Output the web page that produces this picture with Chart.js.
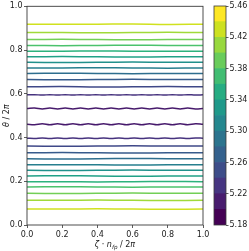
<!DOCTYPE html>
<html><head><meta charset="utf-8">
<script src="https://cdn.jsdelivr.net/npm/chart.js@4/dist/chart.umd.min.js"></script>
<style>
html,body{margin:0;padding:0;background:#fff;}
#wrap{position:relative;width:249px;height:251px;overflow:hidden;}
#main{position:absolute;left:0;top:0;}
#cbar{position:absolute;left:200px;top:0;}
</style></head><body>
<div id="wrap">
<canvas id="main" width="249" height="251"></canvas>
<canvas id="cbar" width="49" height="251"></canvas>
</div>
<script>
// ---------- data ----------
const xTicks = [0, 0.2, 0.4, 0.6, 0.8, 1.0];
const yTicks = [0, 0.2, 0.4, 0.6, 0.8, 1.0];
const cbTicks = [5.18, 5.22, 5.26, 5.30, 5.34, 5.38, 5.42, 5.46];
const cbBounds = [5.18, 5.20, 5.22, 5.24, 5.26, 5.28, 5.30, 5.32, 5.34, 5.36, 5.38, 5.40, 5.42, 5.44, 5.46];
const levels = [5.20, 5.22, 5.24, 5.26, 5.28, 5.30, 5.32, 5.34, 5.36, 5.38, 5.40, 5.42, 5.44];

const zetaCoarse = [0, 0.2, 0.4, 0.6, 0.8, 1.0];
const zetaFine = [0, 0.043, 0.087, 0.13, 0.174, 0.217, 0.261, 0.304, 0.348, 0.391, 0.435, 0.478,
                  0.522, 0.565, 0.609, 0.652, 0.696, 0.739, 0.783, 0.826, 0.87, 0.913, 0.957, 1.0];

// upper branch (theta > 0.5)
const up520 = [0.533,0.5352,0.5308,0.5352,0.5308,0.5352,0.5308,0.5352,0.5308,0.5352,0.5308,0.5352,0.5308,0.5352,0.5308,0.5352,0.5308,0.5352,0.5308,0.5352,0.5308,0.5352,0.5308,0.533];
const up522 = [0.595,0.596,0.594,0.596,0.594,0.596,0.594,0.596,0.594,0.596,0.594,0.596,0.594,0.596,0.594,0.596,0.594,0.596,0.594,0.596,0.594,0.596,0.594,0.595];
const up524 = [0.632, 0.633, 0.631, 0.632, 0.633, 0.632];
const up526 = [0.665, 0.664, 0.665, 0.666, 0.665, 0.665];
const up528 = [0.693, 0.694, 0.693, 0.692, 0.693, 0.693];
const up530 = [0.718, 0.718, 0.719, 0.718, 0.717, 0.718];
const up532 = [0.744, 0.743, 0.744, 0.745, 0.744, 0.744];
const up534 = [0.769, 0.770, 0.769, 0.768, 0.769, 0.769];
const up536 = [0.795, 0.795, 0.796, 0.795, 0.794, 0.795];
const up538 = [0.821, 0.820, 0.821, 0.822, 0.821, 0.821];
const up540 = [0.848, 0.849, 0.848, 0.847, 0.848, 0.848];
const up542 = [0.880, 0.880, 0.879, 0.880, 0.881, 0.880];
const up544 = [0.918, 0.918, 0.918, 0.919, 0.917, 0.918];

// lower branch (theta < 0.5)
const lo520 = [0.461,0.4588,0.4632,0.4588,0.4632,0.4588,0.4632,0.4588,0.4632,0.4588,0.4632,0.4588,0.4632,0.4588,0.4632,0.4588,0.4632,0.4588,0.4632,0.4588,0.4632,0.4588,0.4632,0.461];
const lo522 = [0.397,0.396,0.398,0.396,0.398,0.396,0.398,0.396,0.398,0.396,0.398,0.396,0.398,0.396,0.398,0.396,0.398,0.396,0.398,0.396,0.398,0.396,0.398,0.397];
const lo524 = [0.361, 0.360, 0.361, 0.362, 0.361, 0.361];
const lo526 = [0.330, 0.331, 0.330, 0.329, 0.330, 0.330];
const lo528 = [0.303, 0.302, 0.303, 0.304, 0.303, 0.303];
const lo530 = [0.275, 0.276, 0.275, 0.274, 0.275, 0.275];
const lo532 = [0.250, 0.249, 0.250, 0.251, 0.250, 0.250];
const lo534 = [0.224, 0.225, 0.224, 0.223, 0.224, 0.224];
const lo536 = [0.198, 0.198, 0.197, 0.198, 0.199, 0.198];
const lo538 = [0.174, 0.175, 0.174, 0.173, 0.174, 0.174];
const lo540 = [0.145, 0.144, 0.145, 0.146, 0.145, 0.145];
const lo542 = [0.113, 0.113, 0.114, 0.113, 0.112, 0.113];
const lo544 = [0.073, 0.073, 0.074, 0.073, 0.072, 0.073];

const upperBranches = [up520, up522, up524, up526, up528, up530, up532, up534, up536, up538, up540, up542, up544];
const lowerBranches = [lo520, lo522, lo524, lo526, lo528, lo530, lo532, lo534, lo536, lo538, lo540, lo542, lo544];

// ---------- style ----------
const VIR = ['#440154','#471365','#482475','#463480','#414487','#3b528b','#355f8d','#2f6c8e','#2a788e','#25848e','#21918c','#1e9c89','#22a884','#2fb47c','#44bf70','#5ec962','#7ad151','#9bd93c','#bddf26','#dfe318','#fde725'];
function hex2rgb(h){return [parseInt(h.substr(1,2),16),parseInt(h.substr(3,2),16),parseInt(h.substr(5,2),16)];}
function viridis(t){
  t = Math.max(0, Math.min(1, t));
  const f = t * (VIR.length - 1);
  const i = Math.min(VIR.length - 2, Math.floor(f));
  const u = f - i;
  const a = hex2rgb(VIR[i]), b = hex2rgb(VIR[i+1]);
  const c = a.map((v,k)=>Math.round(v + (b[k]-v)*u));
  return 'rgb(' + c.join(',') + ')';
}
const vmin = cbBounds[0], vmax = cbBounds[cbBounds.length-1];
const FONT = '"DejaVu Sans", sans-serif';
const TXT = '#1a1a1a';

function lineDataset(zeta, theta, lev){
  return {
    data: zeta.map((z,i)=>({x:z, y:theta[i]})),
    borderColor: viridis((lev - vmin)/(vmax - vmin)),
    borderWidth: 1.5,
    pointRadius: 0,
    showLine: true,
    fill: false,
    tension: 0.4
  };
}
const datasets = [];
levels.forEach((lev, k)=>{
  const zu = upperBranches[k].length === zetaFine.length ? zetaFine : zetaCoarse;
  const zl = lowerBranches[k].length === zetaFine.length ? zetaFine : zetaCoarse;
  datasets.push(lineDataset(zu, upperBranches[k], lev));
  datasets.push(lineDataset(zl, lowerBranches[k], lev));
});

function drawParts(ctx, parts, size){
  let w = 0;
  parts.forEach(p=>{
    const fs = p.sub ? size*0.7 : size;
    ctx.font = (p.it ? 'italic ' : '') + fs + 'px ' + FONT;
    p.w = ctx.measureText(p.t).width; w += p.w;
  });
  let x = -w/2;
  parts.forEach(p=>{
    const fs = p.sub ? size*0.7 : size;
    ctx.font = (p.it ? 'italic ' : '') + fs + 'px ' + FONT;
    ctx.fillText(p.t, x, p.sub ? size*0.25 : 0);
    x += p.w;
  });
}

const mainDecor = {
  id: 'mainDecor',
  afterDraw(chart){
    const {ctx, chartArea:a} = chart;
    ctx.save();
    ctx.strokeStyle = '#3a3a3a';
    ctx.lineWidth = 0.9;
    ctx.strokeRect(a.left, a.top, a.right - a.left, a.bottom - a.top);
    ctx.fillStyle = TXT;
    ctx.textBaseline = 'alphabetic';
    ctx.textAlign = 'left';
    ctx.save();
    ctx.translate((a.left + a.right)/2, 246.5);
    drawParts(ctx, [{t:'ζ',it:true},{t:' · ',it:false},{t:'n',it:true},{t:'fp',it:true,sub:true},{t:' / 2',it:false},{t:'π',it:true}], 8);
    ctx.restore();
    ctx.save();
    ctx.translate(9, (a.top + a.bottom)/2);
    ctx.rotate(-Math.PI/2);
    drawParts(ctx, [{t:'θ',it:true},{t:' / 2',it:false},{t:'π',it:true}], 8);
    ctx.restore();
    ctx.restore();
  }
};

new Chart(document.getElementById('main'), {
  type: 'scatter',
  data: { datasets },
  options: {
    responsive: false,
    animation: false,
    events: [],
    layout: { padding: { left: 0, top: 6, right: 46, bottom: 0 } },
    plugins: { legend: {display:false}, tooltip: {enabled:false} },
    scales: {
      x: {
        type: 'linear', min: 0, max: 1,
        afterBuildTicks: s => { s.ticks = xTicks.map(v=>({value:v})); },
        afterFit: s => { s.height = 26; },
        ticks: { callback: v => Number(v).toFixed(1), font: {family: FONT, size: 8}, color: TXT, padding: 2, maxRotation: 0, autoSkip: false },
        grid: { drawOnChartArea: false, tickLength: 3, color: '#333', lineWidth: 0.8 },
        border: { display: false }
      },
      y: {
        type: 'linear', min: 0, max: 1,
        afterBuildTicks: s => { s.ticks = yTicks.map(v=>({value:v})); },
        afterFit: s => { s.width = 27; },
        ticks: { callback: v => Number(v).toFixed(1), font: {family: FONT, size: 8}, color: TXT, padding: 1.5, autoSkip: false },
        grid: { drawOnChartArea: false, tickLength: 3, color: '#333', lineWidth: 0.8 },
        border: { display: false }
      }
    }
  },
  plugins: [mainDecor]
});

// ---------- colorbar ----------
const cbDatasets = [];
for (let i = 0; i < cbBounds.length - 1; i++) {
  cbDatasets.push({
    data: [[cbBounds[i], cbBounds[i+1]]],
    backgroundColor: viridis(i/(cbBounds.length - 2)),
    borderWidth: 0,
    barPercentage: 1,
    categoryPercentage: 1
  });
}
const cbDecor = {
  id: 'cbDecor',
  afterDraw(chart){
    const {ctx, chartArea:a} = chart;
    ctx.save();
    ctx.strokeStyle = '#3a3a3a';
    ctx.lineWidth = 0.8;
    ctx.strokeRect(a.left, a.top, a.right - a.left, a.bottom - a.top);
    ctx.restore();
  }
};
new Chart(document.getElementById('cbar'), {
  type: 'bar',
  data: { labels: [''], datasets: cbDatasets },
  options: {
    responsive: false,
    animation: false,
    events: [],
    layout: { padding: { left: 14, top: 6, right: 0, bottom: 26 } },
    plugins: { legend: {display:false}, tooltip: {enabled:false} },
    scales: {
      x: { display: false, stacked: true },
      y: {
        position: 'right', min: vmin, max: vmax, stacked: false,
        afterBuildTicks: s => { s.ticks = cbTicks.map(v=>({value:v})); },
        afterFit: s => { s.width = 23; },
        ticks: { callback: v => Number(v).toFixed(2), font: {family: FONT, size: 8}, color: TXT, padding: 1, autoSkip: false },
        grid: { drawOnChartArea: false, tickLength: 2.5, color: '#333', lineWidth: 0.8 },
        border: { display: false }
      }
    }
  },
  plugins: [cbDecor]
});
</script>
</body></html>
